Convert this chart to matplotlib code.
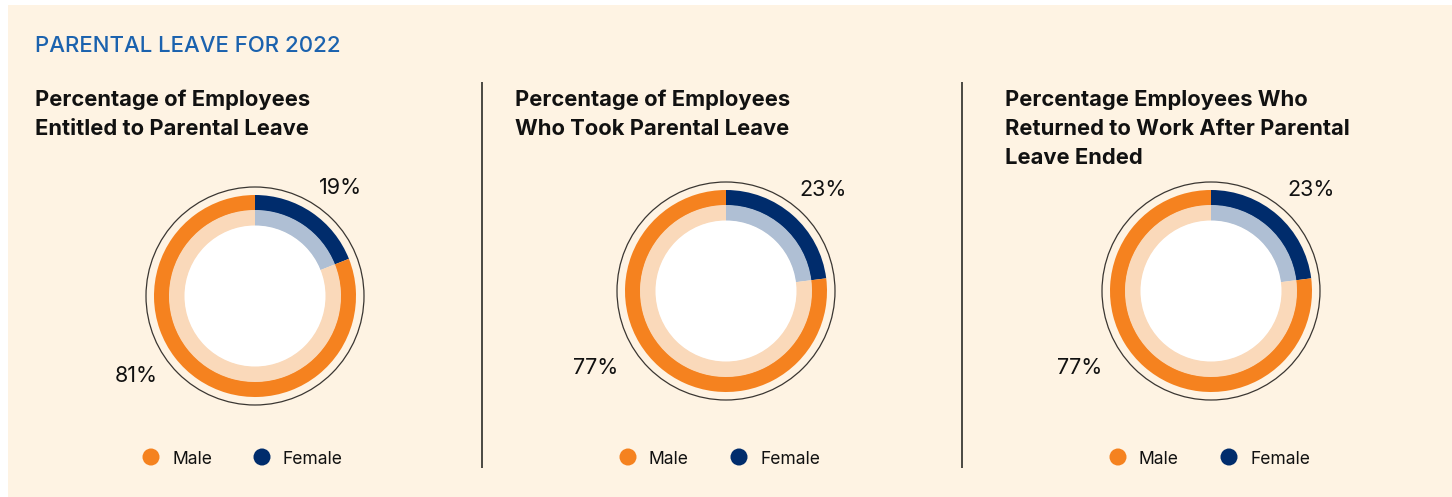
import matplotlib.pyplot as plt
from matplotlib.patches import Circle, Rectangle

# data
panel_titles = [
    "Percentage of Employees\nEntitled to Parental Leave",
    "Percentage of Employees\nWho Took Parental Leave",
    "Percentage Employees Who\nReturned to Work After Parental\nLeave Ended",
]
female_pct = [19, 23, 23]
male_pct = [81, 77, 77]
legend_labels = ["Male", "Female"]

ORANGE = "#F5821F"
NAVY = "#002C6C"
LIGHT_ORANGE = "#FAD9BA"
LIGHT_BLUE = "#AFBFD4"
BG = "#FEF3E3"

W, H = 1452, 497
plt.rcParams["font.family"] = ["Inter", "DejaVu Sans"]

fig = plt.figure(figsize=(W / 100, H / 100), dpi=100)
fig.patch.set_facecolor("white")
ax = fig.add_axes([0, 0, 1, 1])


def Y(y):
    # pixel row (from top) -> data y (from bottom)
    return H - y


ax.add_patch(Rectangle((8, 0), W - 8, H - 5, facecolor=BG, edgecolor="none", zorder=0))

ax.text(35, Y(46), "PARENTAL LEAVE FOR 2022", color="#1B62AE", fontsize=16,
        fontweight="medium", va="center", ha="left")

# layout of the three panels
centers = [(255, 296), (726, 291), (1211, 291)]
title_x = [35, 515, 1005]
female_lbl = [(341, 188), (823, 190), (1311, 190)]
male_lbl = [(136, 376), (596, 368), (1080, 368)]
legend_x = [151, 628, 1118]

for x in [482, 962]:
    ax.plot([x, x], [Y(82), Y(468)], color="#4A4842", lw=1.4, solid_capstyle="butt")

for i in range(3):
    cx, cy = centers[i]
    c = (cx, Y(cy))
    vals = [female_pct[i], male_pct[i]]

    ax.text(title_x[i], Y(90), panel_titles[i], fontsize=15.8, fontweight="bold",
            color="#111111", va="top", ha="left", linespacing=1.55)

    ax.add_patch(Circle(c, 109, facecolor="none", edgecolor="#3A3632", lw=0.9, zorder=1))
    ax.pie(vals, center=c, radius=101, startangle=90, counterclock=False,
           colors=[NAVY, ORANGE], wedgeprops=dict(width=15.5, linewidth=0))
    ax.pie(vals, center=c, radius=86, startangle=90, counterclock=False,
           colors=[LIGHT_BLUE, LIGHT_ORANGE], wedgeprops=dict(width=16, linewidth=0))
    ax.add_patch(Circle(c, 70.5, facecolor="white", edgecolor="none", zorder=3))

    fx, fy = female_lbl[i]
    ax.text(fx, Y(fy), f"{female_pct[i]}%", fontsize=15.5, color="#111111",
            ha="center", va="center")
    mx, my = male_lbl[i]
    ax.text(mx, Y(my), f"{male_pct[i]}%", fontsize=15.5, color="#111111",
            ha="center", va="center")

    lx = legend_x[i]
    ax.scatter([lx, lx + 111], [Y(457), Y(457)], s=150, c=[ORANGE, NAVY],
               edgecolors="none", zorder=4)
    ax.text(lx + 21, Y(459), legend_labels[0], fontsize=12.6, color="#111111",
            va="center", ha="left")
    ax.text(lx + 132, Y(459), legend_labels[1], fontsize=12.6, color="#111111",
            va="center", ha="left")

ax.set_xlim(0, W)
ax.set_ylim(0, H)
ax.set_aspect("equal")
ax.axis("off")

fig.savefig("out.png", dpi=100, facecolor=fig.get_facecolor())
